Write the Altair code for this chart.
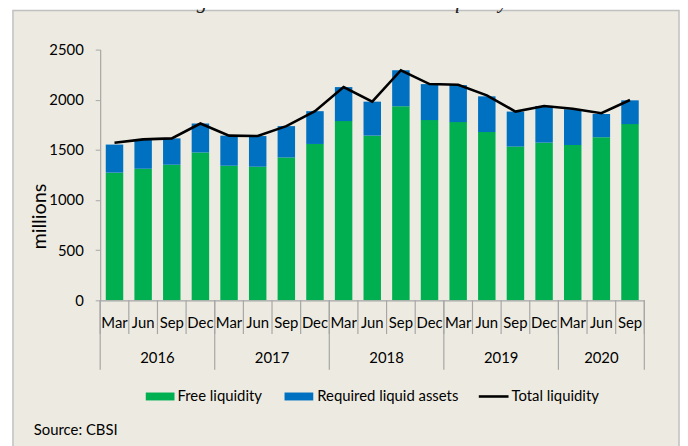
import altair as alt
import pandas as pd

# ---------------- data ----------------
years = ["2016", "2017", "2018", "2019", "2020"]
year_months = [
    ["Mar", "Jun", "Sep", "Dec"],
    ["Mar", "Jun", "Sep", "Dec"],
    ["Mar", "Jun", "Sep", "Dec"],
    ["Mar", "Jun", "Sep", "Dec"],
    ["Mar", "Jun", "Sep"],
]
free_liquidity = [1273, 1312, 1352, 1474, 1342, 1332, 1424, 1559, 1787, 1642,
                  1935, 1797, 1777, 1678, 1533, 1572, 1549, 1625, 1757]
required_assets = [280, 287, 263, 289, 300, 306, 313, 327, 339, 339,
                   359, 359, 369, 356, 349, 366, 356, 234, 237]
total_liquidity = [1572, 1605, 1615, 1763, 1642, 1638, 1737, 1886, 2126, 1981,
                   2294, 2156, 2150, 2044, 1882, 1938, 1911, 1866, 1997]
y_ticks = [0, 500, 1000, 1500, 2000, 2500]
series_names = ["Free liquidity", "Required liquid assets", "Total liquidity"]
title_text = "Figure 5.5 Commercial Banks' liquidity"
source_text = "Source: CBSI"

# ---------------- tables ----------------
periods, months = [], []
for y, ms in zip(years, year_months):
    for m in ms:
        periods.append(f"{y}-{m}")
        months.append(m)

rows = []
for p, m, f, r in zip(periods, months, free_liquidity, required_assets):
    rows.append(dict(period=p, month=m, series=series_names[0], value=f, ord=0))
    rows.append(dict(period=p, month=m, series=series_names[1], value=r, ord=1))
bars_df = pd.DataFrame(rows)
line_df = pd.DataFrame(dict(period=periods, month=months, total=total_liquidity))

n = len(periods)
month_bounds = pd.DataFrame(dict(b=list(range(n + 1))))
ybounds, ycenters, start = [0], [], 0
for ms in year_months:
    ycenters.append(start + len(ms) / 2)
    start += len(ms)
    ybounds.append(start)
year_bounds = pd.DataFrame(dict(b=ybounds))
year_labels = pd.DataFrame(dict(c=ycenters, year=years))
one = pd.DataFrame(dict(a=[0]))

# ---------------- style ----------------
FONT = "Lato"
GREEN, BLUE = "#00B050", "#0070C0"
AXIS_GRAY = "#A6A6A6"
BG = "#EDEBE1"
W, H = 549, 253

xband = alt.X(
    "period:N", sort=periods,
    scale=alt.Scale(paddingInner=0.39, paddingOuter=0.195),
    axis=alt.Axis(title=None, labels=False, ticks=False, domain=True,
                  domainColor=AXIS_GRAY, domainWidth=1.2, zindex=1),
)

frame = alt.Chart(one).mark_rect(fill=BG, stroke="#C0C0C0", strokeWidth=1.5).encode(
    x=alt.value(-88), x2=alt.value(584), y=alt.value(-39.5), y2=alt.value(420)
)

bars = alt.Chart(bars_df).mark_bar().encode(
    x=xband,
    y=alt.Y("value:Q", stack="zero",
            scale=alt.Scale(domain=[0, 2500], nice=False),
            axis=alt.Axis(values=y_ticks, format="d", grid=False, tickSize=5,
                          tickColor=AXIS_GRAY, domainColor=AXIS_GRAY, domainWidth=1.2,
                          zindex=1, labelFont=FONT, labelFontSize=15, labelColor="#000",
                          labelPadding=12,
                          title="millions", titleFont=FONT, titleFontSize=20,
                          titleFontWeight="normal", titleColor="#000",
                          titleX=-61, titleY=168, titleAngle=270,
                          titleAlign="center", titleBaseline="middle")),
    color=alt.Color("series:N", scale=alt.Scale(domain=series_names[:2], range=[GREEN, BLUE]),
                    legend=None),
    order=alt.Order("ord:Q"),
)

line = alt.Chart(line_df).mark_line(color="#000000", strokeWidth=2.6).encode(
    x=xband, y=alt.Y("total:Q")
)

month_text = alt.Chart(line_df).mark_text(font=FONT, fontSize=15, color="#000",
                                          baseline="middle").encode(
    x=xband, y=alt.value(276), text="month:N"
)

lin = alt.Scale(domain=[0, n])
month_rules = alt.Chart(month_bounds).mark_rule(color=AXIS_GRAY, strokeWidth=1.2).encode(
    x=alt.X("b:Q", scale=lin, axis=None), y=alt.value(253), y2=alt.value(287)
)
year_rules = alt.Chart(year_bounds).mark_rule(color=AXIS_GRAY, strokeWidth=1.2).encode(
    x=alt.X("b:Q", scale=lin, axis=None), y=alt.value(253), y2=alt.value(323)
)
year_text = alt.Chart(year_labels).mark_text(font=FONT, fontSize=15, color="#000",
                                             baseline="middle").encode(
    x=alt.X("c:Q", scale=lin, axis=None), y=alt.value(311), text="year:N"
)

# legend (manual, one row)
def swatch(color, x0, x1, h=8):
    return alt.Chart(one).mark_rect(color=color).encode(
        x=alt.value(x0), x2=alt.value(x1), y=alt.value(350 - h / 2), y2=alt.value(350 + h / 2)
    )

def label(txt, x0, y0=350):
    return alt.Chart(one).mark_text(text=txt, font=FONT, fontSize=15, color="#000",
                                    align="left", baseline="middle").encode(
        x=alt.value(x0), y=alt.value(y0)
    )

leg_line = alt.Chart(one).mark_rule(color="#000", strokeWidth=2.6).encode(
    x=alt.value(382), x2=alt.value(412), y=alt.value(350)
)
legend = alt.layer(
    swatch(GREEN, 46, 75), label(series_names[0], 78),
    swatch(BLUE, 186, 215), label(series_names[1], 219),
    leg_line, label(series_names[2], 415),
)

source = label(source_text, -67, 384)
title = alt.Chart(one).mark_text(text=title_text, font="Liberation Serif", fontStyle="italic",
                                 fontSize=21, color="#222", align="center",
                                 baseline="alphabetic").encode(
    x=alt.value(245), y=alt.value(-41.5)
)

main = alt.layer(frame, bars, line, month_text, legend, source, title)
seps = alt.layer(month_rules, year_rules, year_text)

chart = alt.layer(main, seps).resolve_scale(x="independent").properties(
    width=W, height=H,
    padding={"left": 93, "top": 40, "right": 36, "bottom": 145},
    autosize=alt.AutoSizeParams(type="none"),
    background="white",
).configure_view(stroke=None)

chart.save("out.html", embed_options={"renderer": "svg", "actions": False})
